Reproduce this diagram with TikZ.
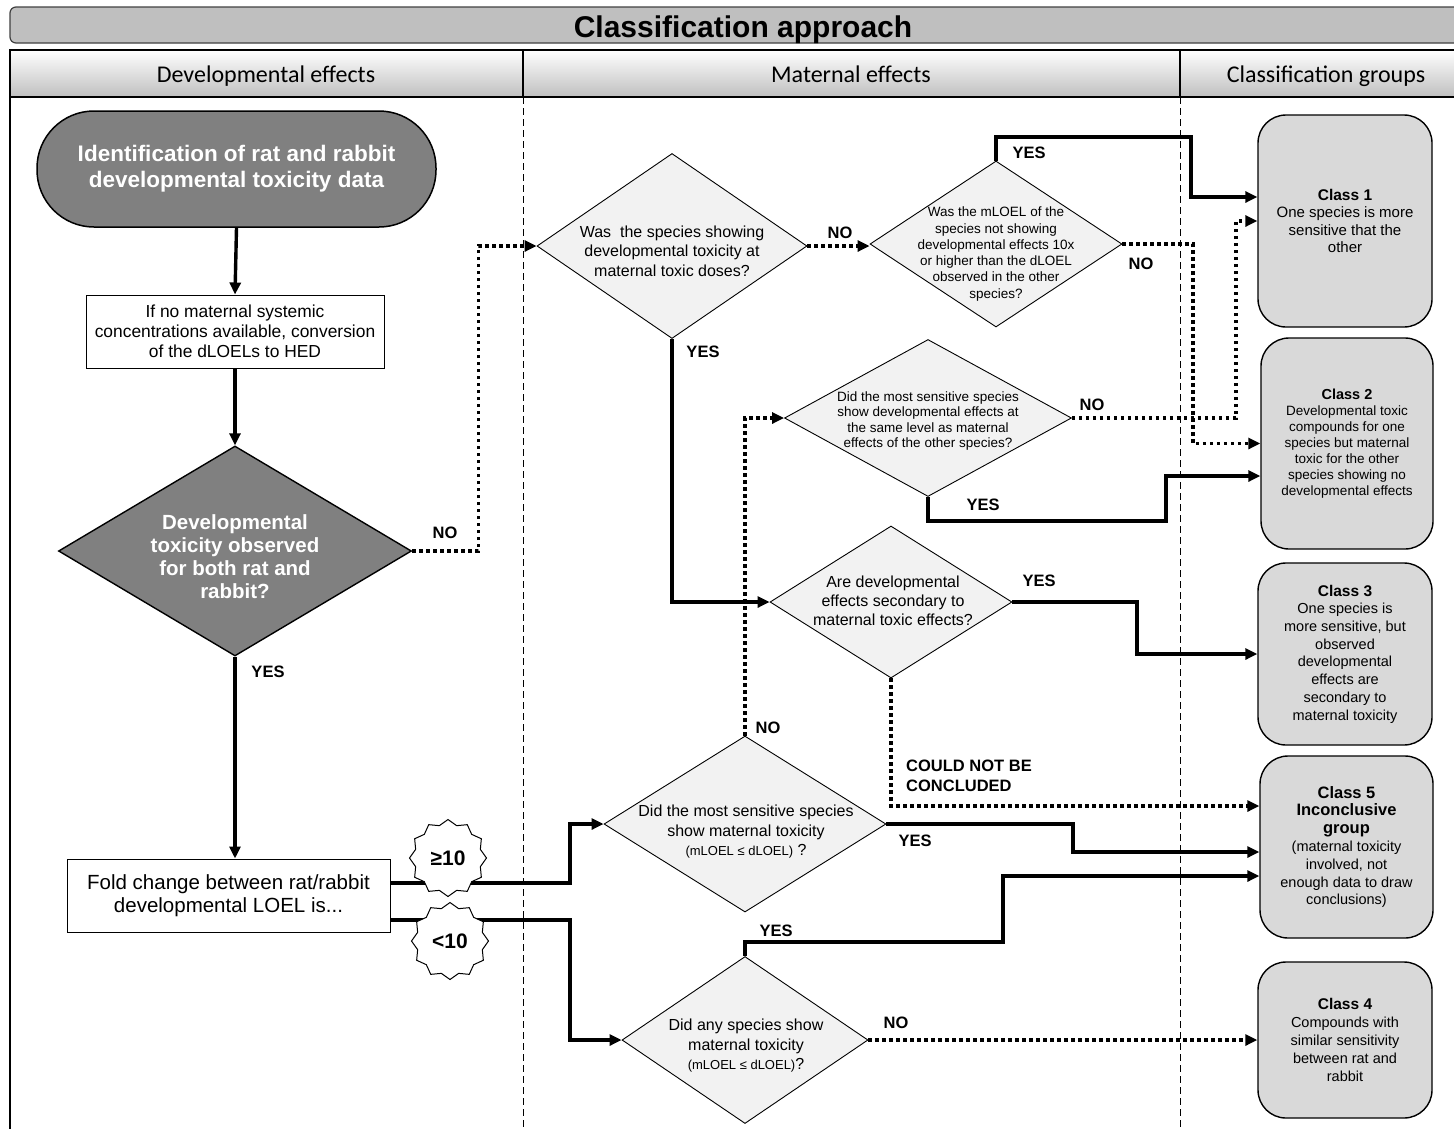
\documentclass[tikz,border=0pt]{standalone}
\usepackage{fontspec}
\setmainfont{Liberation Sans}
\newfontfamily\hdrfont{Carlito}
\usetikzlibrary{arrows.meta,shapes.geometric,calc}
\definecolor{darkfill}{HTML}{808080}
\definecolor{lightdiam}{HTML}{F2F2F2}
\definecolor{classfill}{HTML}{D9D9D9}
\definecolor{titlefill}{HTML}{BFBFBF}
\newcommand{\fsz}[2]{\fontsize{#1}{#2}\selectfont}
\begin{document}
\begin{tikzpicture}[x=1pt,y=-1pt,
  diam/.style={diamond, draw=black, line width=0.9pt, fill=lightdiam, inner sep=0pt},
  darkdiam/.style={diamond, draw=black, line width=1.4pt, fill=darkfill, inner sep=0pt},
  dtext/.style={align=center, inner sep=0pt, font=\fsz{16}{19.5}},
  smalltext/.style={align=center, inner sep=0pt, font=\fsz{13.5}{16.3}},
  boxnode/.style={rectangle, draw=black, line width=1pt, fill=white, align=center, inner sep=2pt},
  classbox/.style={rectangle, rounded corners=28pt, draw=black, line width=1.4pt, fill=classfill, align=center, inner sep=2pt, font=\fsz{15}{17.5}},
  flow/.style={line width=3.4pt, -{Triangle[length=12pt,width=11pt]}},
  dotflow/.style={flow, dash pattern=on 3.4pt off 3.6pt},
  lbl/.style={font=\bfseries\fsz{16.5}{19.5}, inner sep=0pt},
  sep/.style={line width=0.9pt, dash pattern=on 7pt off 4pt},
  burst/.style={star, star points=12, star point ratio=1.15, draw=black, line width=1pt, fill=white, minimum size=77pt, inner sep=0pt, font=\bfseries\fsz{21}{24}},
  hdr/.style={font=\hdrfont\fsz{24}{27}, inner sep=0pt, anchor=base}
]
\useasboundingbox (0,0) rectangle (1454,1128);
\clip (0,0) rectangle (1454,1128);

% title bar
\draw[rounded corners=6pt, fill=titlefill, draw=black!75, line width=1.2pt] (10,7) rectangle (1490,43);
\node[font=\bfseries\fsz{30}{34}, inner sep=0pt, anchor=base] (title) at (743,37) {Classification approach};

% header row
\shade[top color=white, bottom color=black!25] (10,50) rectangle (1480,97);
\draw[line width=2pt] (10,50) rectangle (1480,97);
\draw[line width=1.5pt] (523,50) -- (523,97);
\draw[line width=1.5pt] (1180,50) -- (1180,97);
\node[hdr] (h1) at (266,82) {Developmental effects};
\node[hdr] (h2) at (851,82) {Maternal effects};
\node[hdr] (h3) at (1326,82) {Classification groups};

% body frame and lane separators
\draw[line width=2pt] (10,97) -- (10,1132);
\draw[sep] (523,97) -- (523,1132);
\draw[sep] (1180,97) -- (1180,1132);

% left lane
\node[rectangle, rounded corners=57pt, draw=black, line width=1.5pt, fill=darkfill,
      minimum width=399pt, minimum height=116pt, inner sep=0pt, align=center,
      text=white, font=\bfseries\fsz{22.5}{26}] (start) at (236.5,169)
      {Identification of rat and rabbit\\developmental toxicity data};
\node[boxnode, minimum width=298pt, minimum height=73pt, font=\fsz{17.4}{20}] (box1) at (235,331.5)
      {If no maternal systemic\\concentrations available, conversion\\of the dLOELs to HED};
\node[darkdiam, minimum width=353pt, minimum height=210pt] (d1) at (235,551) {};
\node[align=center, inner sep=0pt, text=white, font=\bfseries\fsz{20.5}{23}] (d1t) at (235,557)
      {Developmental\\toxicity observed\\for both rat and\\rabbit?};
\node[boxnode, minimum width=323pt, minimum height=73pt, font=\fsz{20.5}{23}] (box2) at (228.5,895.5)
      {Fold change between rat/rabbit\\developmental LOEL is...};

% middle lane diamonds
\node[diam, minimum width=270pt, minimum height=185pt] (d2) at (672,246) {};
\node[dtext] (d2t) at (672,251) {Was\ \ the species showing\\developmental toxicity at\\maternal toxic doses?};
\node[diam, minimum width=252pt, minimum height=166pt] (d3) at (996,244) {};
\node[smalltext] (d3t) at (996,254) {Was the mLOEL of the\\species not showing\\developmental effects 10x\\or higher than the dLOEL\\observed in the other\\species?};
\node[diam, minimum width=287pt, minimum height=157pt] (d4) at (928,418) {};
\node[smalltext, font=\fsz{13.5}{15.6}] (d4t) at (928,421) {Did the most sensitive species\\show developmental effects at\\the same level as maternal\\effects of the other species?};
\node[diam, minimum width=242pt, minimum height=152pt] (d7) at (891,602) {};
\node[dtext, font=\fsz{16}{19}] (d7t) at (893,601) {Are developmental\\effects secondary to\\maternal toxic effects?};
\node[diam, minimum width=282pt, minimum height=176pt] (d5) at (745,824) {};
\node[dtext, font=\fsz{16}{19.5}] (d5t) at (746,832) {Did the most sensitive species\\show maternal toxicity\\{\fsz{13}{19.5}(mLOEL ≤ dLOEL)} ?};
\node[diam, minimum width=246pt, minimum height=167pt] (d6) at (745,1040) {};
\node[dtext, font=\fsz{16}{19.5}] (d6t) at (746,1046) {Did any species show\\maternal toxicity\\{\fsz{13}{19.5}(mLOEL ≤ dLOEL)}?};

% classification groups
\node[classbox, minimum width=174pt, minimum height=212pt] (c1) at (1345,221)
      {{\bfseries\fsz{15.5}{19}Class 1}\\One species is more\\sensitive that the\\other};
\node[classbox, minimum width=172pt, minimum height=211pt, font=\fsz{13.5}{16}] (c2) at (1347,443.5)
      {{\bfseries\fsz{14.5}{16}Class 2}\\Developmental toxic\\compounds for one\\species but maternal\\toxic for the other\\species showing no\\developmental effects};
\node[classbox, minimum width=174pt, minimum height=182pt, font=\fsz{14.5}{17.7}] (c3) at (1345,654)
      {{\bfseries\fsz{15.5}{17.7}Class 3}\\One species is\\more sensitive, but\\observed\\developmental\\effects are\\secondary to\\maternal toxicity};
\node[classbox, minimum width=173pt, minimum height=182pt, font=\fsz{14.5}{17.8}] (c5) at (1346.5,847)
      {{\bfseries\fsz{16.5}{19}Class 5}\\{\bfseries\fsz{16.5}{19}Inconclusive}\\{\bfseries\fsz{16.5}{19}group}\\(maternal toxicity\\involved, not\\enough data to draw\\conclusions)};
\node[classbox, minimum width=174pt, minimum height=156pt, font=\fsz{14.5}{18}] (c4) at (1345,1040)
      {{\bfseries\fsz{15.5}{18}Class 4}\\Compounds with\\similar sensitivity\\between rat and\\rabbit};

% connectors
\draw[flow] (start.south) -- (box1.north);
\draw[flow] (box1.south) -- (d1.north);
\draw[dotflow] (d1.east) -- ++(66,0) |- (d2.west);
\draw[flow] (d1.south) -- (d1.south |- box2.north);
\draw[flow] ([yshift=12.5pt]box2.east) -- (570,883) |- (d5.west);
\draw[flow] ([yshift=-24.5pt]box2.east) -- (570,920) |- (d6.west);
\draw[dotflow] (d2.east) -- (d2.east -| d3.west);
\draw[flow] (d3.north) |- (1191,137) |- ([yshift=24pt]c1.west);
\draw[dotflow] (d3.east) -- (1193,244) |- (c2.west);
\draw[dotflow] (d4.east) -- (1236,418) |- (c1.west);
\draw[flow] (d4.south) |- (1166,521) |- ([yshift=-32.5pt]c2.west);
\draw[flow] (d2.south) |- (d7.west);
\draw[flow] (d7.east) -- (1137,602) |- (c3.west);
\draw[dotflow] (d7.south) |- ([yshift=41pt]c5.west);
\draw[dotflow] (d5.north) |- (d4.west);
\draw[flow] (d5.east) -- (1073,824) |- ([yshift=-5pt]c5.west);
\draw[flow] (d6.north) |- (1003,942) |- ([yshift=-29pt]c5.west);
\draw[dotflow] (d6.east) -- (d6.east -| c4.west);

% fold-change markers
\node[burst] (s1) at (448,858) {≥10};
\node[burst] (s2) at (450,941) {<10};

% connector labels
\node[lbl] (l1) at (445,533) {NO};
\node[lbl] (l2) at (268,672) {YES};
\node[lbl] (l3) at (840,233) {NO};
\node[lbl] (l4) at (703,352) {YES};
\node[lbl] (l5) at (1029,153) {YES};
\node[lbl] (l6) at (1141,264) {NO};
\node[lbl] (l7) at (1092,405) {NO};
\node[lbl] (l8) at (983,505) {YES};
\node[lbl] (l9) at (1039,581) {YES};
\node[lbl, anchor=west, align=left, font=\bfseries\fsz{16.5}{20}] (l10) at (906,776) {COULD NOT BE\\CONCLUDED};
\node[lbl] (l11) at (768,728) {NO};
\node[lbl] (l12) at (915,841) {YES};
\node[lbl] (l13) at (776,931) {YES};
\node[lbl] (l14) at (896,1023) {NO};
\end{tikzpicture}
\end{document}
